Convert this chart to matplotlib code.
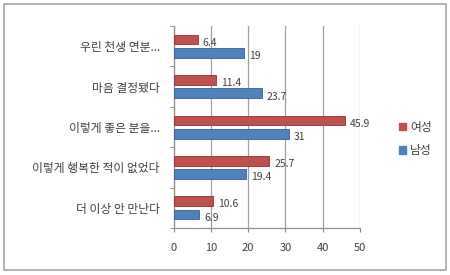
import matplotlib
matplotlib.use("Agg")
import matplotlib.pyplot as plt
import numpy as np
from matplotlib.patches import Rectangle

plt.rcParams['font.family'] = ['Noto Sans CJK KR', 'DejaVu Sans']

categories = ["우린 천생 연분...", "마음 결정됐다", "이렇게 좋은 분을...",
              "이렇게 행복한 적이 없었다", "더 이상 안 만난다"]
female = [6.4, 11.4, 45.9, 25.7, 10.6]
male = [19, 23.7, 31, 19.4, 6.9]
series_names = ["여성", "남성"]
xticks = [0, 10, 20, 30, 40, 50]

red = "#C0504D"
blue = "#4F81BD"
txt = "#404040"

fig = plt.figure(figsize=(4.5, 2.75), dpi=100)
fig.patch.set_facecolor("white")
fig.patches.append(Rectangle((0.008, 0.02), 0.984, 0.965, transform=fig.transFigure,
                             fill=False, edgecolor="#a6a6a6", linewidth=1.2))

ax = fig.add_axes([0.386, 0.171, 0.414, 0.734])
y = np.arange(len(categories))
h = 0.24
off = 0.165
ax.barh(y - off, female, height=h, color=red, edgecolor="#8c3331", linewidth=0.6, zorder=3)
ax.barh(y + off, male, height=h, color=blue, edgecolor="#355f93", linewidth=0.6, zorder=3)

for yi, v in zip(y, female):
    ax.text(v + 1.3, yi - off + 0.08, f"{v:g}", fontsize=7.5, color=txt, va="center", ha="left", zorder=4)
for yi, v in zip(y, male):
    ax.text(v + 1.3, yi + off + 0.08, f"{v:g}", fontsize=7.5, color=txt, va="center", ha="left", zorder=4)

ax.set_ylim(len(categories) - 0.5, -0.5)
ax.set_xlim(0, 50)
ax.set_yticks(y)
ax.set_yticklabels(categories, fontsize=8.5, color=txt)
ax.set_yticks(np.arange(-0.5, len(categories)), minor=True)
ax.tick_params(axis="y", which="major", length=0, pad=10)
ax.tick_params(axis="y", which="minor", length=3, direction="out", color="#808080")
ax.set_xticks(xticks)
ax.set_xticklabels([str(t) for t in xticks], fontsize=8, color=txt)
ax.tick_params(axis="x", length=3, color="#808080", pad=8)
ax.xaxis.grid(True, color="#a0a0a0", linewidth=0.9, zorder=0)
ax.set_axisbelow(True)
for s in ["top", "right"]:
    ax.spines[s].set_visible(False)
for s in ["left", "bottom"]:
    ax.spines[s].set_color("#909090")
    ax.spines[s].set_linewidth(0.9)

handles = [Rectangle((0, 0), 1, 1, color=red), Rectangle((0, 0), 1, 1, color=blue)]
fig.legend(handles, series_names, loc="upper left", bbox_to_anchor=(0.862, 0.60),
           frameon=False, fontsize=8.5, handlelength=0.6, handleheight=0.6,
           handletextpad=0.4, labelspacing=0.9, labelcolor=txt)

fig.savefig("out.png", dpi=100)
